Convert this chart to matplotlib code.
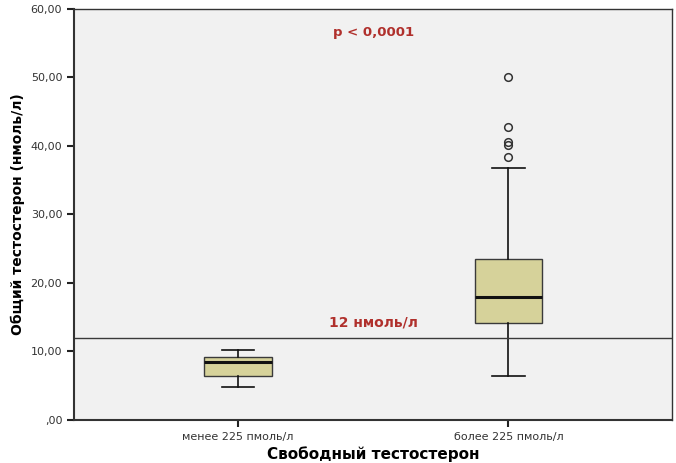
import matplotlib
matplotlib.use("Agg")
import matplotlib.pyplot as plt

# Group labels and box statistics
categories = ["менее 225 пмоль/л", "более 225 пмоль/л"]
q1 = [6.4, 14.1]
med = [8.4, 18.0]
q3 = [9.2, 23.5]
whislo = [4.8, 6.4]
whishi = [10.2, 36.7]
fliers = [[], [38.3, 40.1, 40.6, 42.8, 50.0]]

threshold = 12
yticks = [0, 10, 20, 30, 40, 50, 60]
ytick_labels = [",00", "10,00", "20,00", "30,00", "40,00", "50,00", "60,00"]

stats = []
for i, name in enumerate(categories):
    stats.append(dict(label=name, q1=q1[i], med=med[i], q3=q3[i],
                      whislo=whislo[i], whishi=whishi[i], fliers=fliers[i]))

fig = plt.figure(figsize=(6.76, 4.63), dpi=100)
ax = fig.add_axes([0.1095, 0.093, 0.885, 0.888])
ax.set_facecolor("#f1f1f1")

ax.bxp(stats, positions=[1, 2], widths=0.25, patch_artist=True,
       boxprops=dict(facecolor="#d6d29a", edgecolor="#3a3a3a", linewidth=1.0),
       medianprops=dict(color="#111111", linewidth=2.2),
       whiskerprops=dict(color="#111111", linewidth=1.2),
       capprops=dict(color="#111111", linewidth=1.2),
       capwidths=0.12,
       flierprops=dict(marker="o", markerfacecolor="none", markeredgecolor="#333333",
                       markersize=5.5, markeredgewidth=1.1))

ax.axhline(threshold, color="#3a3a3a", linewidth=1.0)
ax.text(1.5, 14.2, "12 нмоль/л", color="#b0302c", fontsize=10, fontweight="bold",
        ha="center", va="center")
ax.text(1.5, 56.6, "p < 0,0001", color="#b0302c", fontsize=9.5, fontweight="bold",
        ha="center", va="center")

ax.set_xlim(0.394, 2.606)
ax.set_ylim(0, 60)
ax.set_yticks(yticks)
ax.set_yticklabels(ytick_labels, fontsize=8, color="#333333")
ax.set_xticks([1, 2])
ax.set_xticklabels(categories, fontsize=8, color="#333333")
ax.tick_params(direction="out", length=5, width=1.5, color="#222222")

for s in ax.spines.values():
    s.set_color("#333333")
    s.set_linewidth(1.0)
ax.spines["left"].set_linewidth(1.5)
ax.spines["bottom"].set_linewidth(1.5)

ax.set_ylabel("Общий тестостерон (нмоль/л)", fontsize=10, fontweight="bold")
ax.set_xlabel("Свободный тестостерон", fontsize=11, fontweight="bold", labelpad=3)

fig.savefig("out.png", dpi=100)
